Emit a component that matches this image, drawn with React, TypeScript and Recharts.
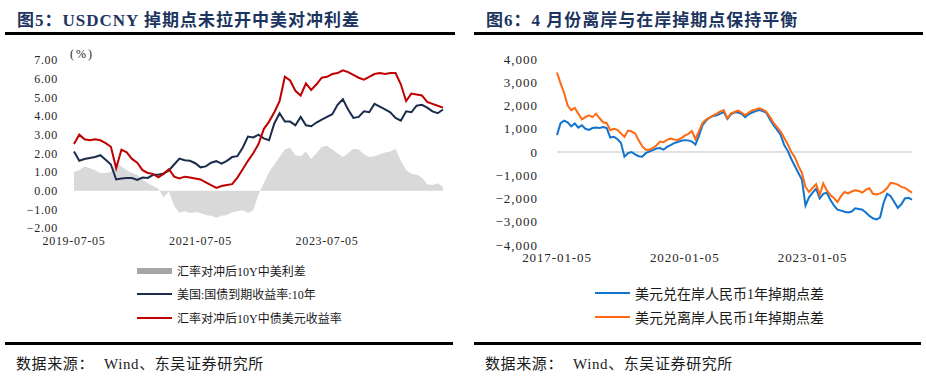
import { ComposedChart, Line, Area, XAxis, YAxis, ReferenceLine } from "recharts";

// 月度日期标签
const months = (y0: number, m0: number, n: number) =>
  Array.from({ length: n }, (_, i) => {
    const t = (m0 - 1) + i;
    const y = y0 + Math.floor(t / 12);
    const m = (t % 12) + 1;
    return `${y}-${String(m).padStart(2, "0")}-05`;
  });

// 图5
const leftDates = months(2019, 7, 71);
const leftTicks = [-2, -1, 0, 1, 2, 3, 4, 5, 6, 7];
const spread10y = [
  1.0, 1.1, 1.3, 1.2, 1.1, 0.95, 0.95, 1.0, 1.5, 1.3, 1.1, 0.95, 0.85, 0.6, 0.4, 0.25, 0.1, -0.35,
  -0.05, -0.8, -1.2, -1.1, -1.2, -1.15, -1.2, -1.3, -1.35, -1.45, -1.35, -1.3, -1.15, -1.1, -1.05,
  -1.2, -1.05, -0.2, 0.4, 1.0, 1.4, 1.8, 2.2, 2.3, 1.9, 1.85, 2.1, 1.7, 2.0, 2.35, 2.4, 2.2, 2.0,
  1.8, 2.0, 2.25, 2.2, 1.95, 1.8, 1.85, 1.95, 2.05, 2.1, 2.25, 1.6, 1.1, 0.9, 0.85, 0.7, 0.35, 0.3,
  0.4, 0.2,
];
const us10y = [
  2.1, 1.6, 1.7, 1.75, 1.8, 1.9, 1.65, 1.4, 0.6, 0.65, 0.68, 0.68, 0.58, 0.7, 0.68, 0.85, 0.85,
  0.92, 1.08, 1.4, 1.72, 1.63, 1.6, 1.47, 1.25, 1.3, 1.5, 1.58, 1.45, 1.6, 1.8, 1.85, 2.3, 2.9,
  2.85, 3.0, 2.8, 2.7, 3.6, 4.15, 3.7, 3.7, 3.5, 3.95, 3.5, 3.45, 3.65, 3.8, 3.95, 4.1, 4.6, 4.9,
  4.35, 3.9, 3.95, 4.25, 4.2, 4.65, 4.5, 4.35, 4.2, 3.9, 3.75, 4.25, 4.2, 4.55, 4.6, 4.45, 4.25,
  4.15, 4.35,
];
const hedgedCgb = [
  2.5, 3.0, 2.75, 2.7, 2.75, 2.7, 2.55, 2.35, 1.2, 2.2, 2.05, 1.7, 1.5, 1.1, 0.95, 0.9, 0.72, 0.9,
  1.15, 0.75, 0.65, 0.75, 0.7, 0.65, 0.6, 0.45, 0.3, 0.15, 0.25, 0.3, 0.35, 0.7, 1.15, 1.6, 2.0,
  2.5, 3.3, 3.7, 4.2, 4.8, 6.1, 5.9, 5.35, 5.1, 5.75, 5.4, 5.7, 6.05, 6.1, 6.25, 6.3, 6.45, 6.35,
  6.2, 6.05, 5.95, 6.1, 6.25, 6.3, 6.25, 6.3, 6.3, 5.7, 4.8, 5.2, 5.15, 5.1, 4.75, 4.65, 4.55, 4.45,
];
const leftNames = ["汇率对冲后10Y中美利差", "美国:国债到期收益率:10年", "汇率对冲后10Y中债美元收益率"];

// 图6
const rightDates = months(2017, 1, 101);
const rightTicks = [-4000, -3000, -2000, -1000, 0, 1000, 2000, 3000, 4000];
const onshore = [
  730, 1240, 1350, 1280, 1100, 1230, 1050, 1150, 1000, 950, 1030, 1050, 1030, 1070, 1030, 620, 650,
  560, 400, -200, -50, 0, -100, -180, -200, -50, 20, 80, 150, 170, 100, 220, 300, 380, 430, 480,
  510, 500, 450, 320, 700, 1150, 1350, 1480, 1550, 1580, 1650, 1720, 1420, 1620, 1700, 1700, 1640,
  1500, 1620, 1700, 1760, 1800, 1760, 1680, 1400, 1150, 950, 730, 300, 50, -300, -600, -900, -1200,
  -2300, -1950, -1750, -1580, -2000, -1800, -1750, -2050, -2300, -2480, -2520, -2570, -2600, -2560,
  -2420, -2450, -2480, -2600, -2750, -2850, -2900, -2820, -2180, -1800, -1900, -2150, -2400, -2250,
  -2000, -1970, -2050,
];
const offshore = [
  3420, 2950, 2550, 2000, 1800, 1900, 1650, 1400, 1500, 1580, 1500, 1650, 1450, 1280, 1240, 940,
  1000, 950, 800, 650, 920, 880, 800, 500, 250, 100, 100, 180, 280, 450, 420, 520, 580, 540, 520,
  600, 700, 780, 900, 550, 900, 1250, 1400, 1480, 1580, 1650, 1750, 1800, 1450, 1650, 1720, 1780,
  1700, 1580, 1700, 1790, 1830, 1880, 1820, 1720, 1500, 1250, 1070, 880, 600, 330, 0, -220, -600,
  -900, -1500, -1720, -1550, -1380, -1850, -1350, -1650, -1850, -1980, -2150, -1900, -1720, -1780,
  -1700, -1650, -1680, -1750, -1620, -1560, -1800, -1830, -1780, -1700, -1550, -1330, -1350, -1400,
  -1500, -1540, -1650, -1750,
];
const rightNames = ["美元兑在岸人民币1年掉期点差", "美元兑离岸人民币1年掉期点差"];

const leftData = leftDates.map((d, i) => ({ d, spread: spread10y[i], us: us10y[i], cgb: hedgedCgb[i] }));
const rightData = rightDates.map((d, i) => ({ d, on: onshore[i], off: offshore[i] }));

const FONT = "'Liberation Serif', 'Noto Sans CJK SC', serif";
const NAVY = "#1c2c4c";
const RED = "#c00000";
const BLUE = "#1174cf";
const ORANGE = "#ff6a10";

const abs = (left: number, top: number, extra: any = {}) => ({ position: "absolute" as const, left, top, ...extra });

function Rule({ x1, x2, y }: { x1: number; x2: number; y: number }) {
  return <div style={abs(x1, y, { width: x2 - x1, height: 3, background: "#000" })} />;
}

function LegendRow({ x, y, color, h, label, size }: any) {
  return (
    <div style={abs(x, y - 10, { height: 20, display: "flex", alignItems: "center", whiteSpace: "nowrap" })}>
      <div style={{ width: 35, height: h, background: color, marginRight: 5 }} />
      <span style={{ fontSize: size, color: "#1a1a1a", fontFamily: FONT }}>{label}</span>
    </div>
  );
}

function Source({ x }: { x: number }) {
  return (
    <div style={abs(x, 352, srcStyle)}>
      数据来源：<span style={{ marginLeft: 10 }}>Wind、东吴证券研究所</span>
    </div>
  );
}

const titleStyle = { fontSize: 17, fontWeight: 700, color: "#1c3560", letterSpacing: 1, fontFamily: FONT, whiteSpace: "nowrap" as const };
const srcStyle = { fontSize: 15, color: "#1a1a1a", letterSpacing: 0.6, fontFamily: FONT, whiteSpace: "nowrap" as const };

export default function App() {
  return (
    <div style={abs(0, 0, { width: 926, height: 380, background: "#fff", fontFamily: FONT, overflow: "hidden" })}>
      <div style={abs(17, 6, titleStyle)}>图5：USDCNY 掉期点未拉开中美对冲利差</div>
      <div style={abs(486, 6, titleStyle)}>图6：4 月份离岸与在岸掉期点保持平衡</div>
      <Rule x1={5} x2={455} y={32} />
      <Rule x1={474} x2={923} y={32} />

      <div style={abs(0, 0)}>
        <ComposedChart width={463} height={250} data={leftData} margin={{ top: 60, right: 20, bottom: 2, left: 14 }}>
          <XAxis dataKey="d" scale="point" interval={23} axisLine={false} tickLine={false} height={20}
            tick={{ fontSize: 12, fill: "#262626", fontFamily: FONT, letterSpacing: 0.7 }} />
          <YAxis domain={[-2, 7]} ticks={leftTicks} interval={0} width={60} axisLine={false} tickLine={false} tickSize={0} tickMargin={16}
            tickFormatter={(v: number) => (v < 0 ? "\u2212" : "") + Math.abs(v).toFixed(2)}
            tick={{ fontSize: 12, fill: "#262626", fontFamily: FONT, letterSpacing: 0.7 }} />
          <Area type="linear" dataKey="spread" name={leftNames[0]} baseValue={0} fill="#d9d9d9" fillOpacity={1} stroke="none" isAnimationActive={false} />
          <Line type="linear" dataKey="us" name={leftNames[1]} stroke={NAVY} strokeWidth={2} dot={false} isAnimationActive={false} />
          <Line type="linear" dataKey="cgb" name={leftNames[2]} stroke={RED} strokeWidth={2} dot={false} isAnimationActive={false} />
        </ComposedChart>
      </div>
      <div style={abs(70, 47, { fontSize: 12, color: "#262626", letterSpacing: 2 })}>(%)</div>

      <div style={abs(463, 0)}>
        <ComposedChart width={463} height={270} data={rightData} margin={{ top: 59, right: 14, bottom: 5, left: 24 }}>
          <XAxis dataKey="d" scale="point" interval={35} axisLine={false} tickLine={false} height={20}
            tick={{ fontSize: 13, fill: "#262626", fontFamily: FONT, letterSpacing: 0.9 }} />
          <YAxis domain={[-4000, 4000]} ticks={rightTicks} interval={0} width={70} axisLine={false} tickLine={false} tickSize={0} tickMargin={19}
            tickFormatter={(v: number) => (v < 0 ? "\u2212" : "") + Math.abs(v).toLocaleString("en-US")}
            tick={{ fontSize: 13, fill: "#262626", fontFamily: FONT, letterSpacing: 1 }} />
          <ReferenceLine y={0} stroke="#d4d4d4" strokeWidth={1.5} />
          <Line type="linear" dataKey="on" name={rightNames[0]} stroke={BLUE} strokeWidth={2} dot={false} isAnimationActive={false} />
          <Line type="linear" dataKey="off" name={rightNames[1]} stroke={ORANGE} strokeWidth={2} dot={false} isAnimationActive={false} />
        </ComposedChart>
      </div>

      <LegendRow x={137} y={271} color="#a6a6a6" h={6} label={leftNames[0]} size={12} />
      <LegendRow x={137} y={294} color={NAVY} h={2} label={leftNames[1]} size={12} />
      <LegendRow x={137} y={318} color={RED} h={2} label={leftNames[2]} size={12} />
      <LegendRow x={595} y={293} color={BLUE} h={2} label={rightNames[0]} size={14} />
      <LegendRow x={595} y={317} color={ORANGE} h={2} label={rightNames[1]} size={14} />

      <Rule x1={5} x2={453} y={342} />
      <Rule x1={474} x2={921} y={342} />
      <Source x={16} />
      <Source x={485} />
    </div>
  );
}
